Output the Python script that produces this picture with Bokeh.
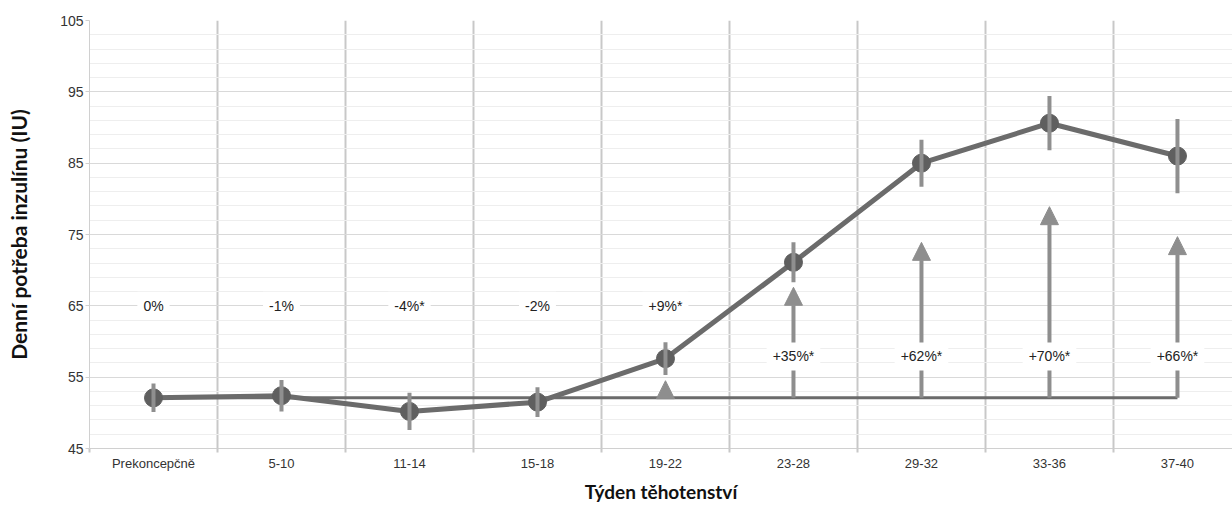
from bokeh.plotting import figure
from bokeh.models import (FixedTicker, Arrow, NormalHead, Label,
                          ColumnDataSource, Range1d)
from bokeh.embed import file_html
from bokeh.resources import INLINE

# ---- data ----
categories = ["Prekoncepčně", "5-10", "11-14", "15-18", "19-22",
              "23-28", "29-32", "33-36", "37-40"]
means = [52.1, 52.4, 50.2, 51.5, 57.6, 71.1, 85.0, 90.6, 86.0]
errors = [2.0, 2.2, 2.6, 2.1, 2.3, 2.8, 3.3, 3.8, 5.2]
pct_labels = ["0%", "-1%", "-4%*", "-2%", "+9%*", "+35%*", "+62%*", "+70%*", "+66%*"]
arrow_tops = [None, None, None, None, 54.5, 67.6, 73.9, 78.9, 74.7]
y_ticks = [45, 55, 65, 75, 85, 95, 105]

# ---- styling ----
LINE_C = "#6b6b6b"
MARK_C = "#5f5f5f"
ERR_C = "#8f8f8f"
ARROW_C = "#8e8e8e"
SEP_C = "#c8c8c8"

xs = list(range(len(categories)))
baseline = means[0]

p = figure(width=1232, height=505, output_backend="svg", toolbar_location=None,
           x_range=Range1d(-0.5, 8.43), y_range=Range1d(45, 105),
           min_border_left=89, min_border_right=0, min_border_top=20,
           min_border_bottom=55)
p.outline_line_color = None
p.background_fill_color = "white"

# y axis / grid
p.yaxis.ticker = FixedTicker(ticks=y_ticks, minor_ticks=list(range(45, 106, 2)))
p.ygrid.grid_line_color = "#d9d9d9"
p.ygrid.minor_grid_line_color = "#eeeeee"
p.ygrid.minor_grid_line_width = 1
p.yaxis.axis_line_color = "#d0d0d0"
p.yaxis.major_tick_line_color = "#d0d0d0"
p.yaxis.major_tick_out = 4
p.yaxis.major_tick_in = 0
p.yaxis.minor_tick_line_color = None
p.yaxis.major_label_text_font = "Liberation Sans"
p.yaxis.major_label_text_font_size = "14px"
p.yaxis.major_label_text_color = "#333333"
p.yaxis.major_label_standoff = 2
p.yaxis.axis_label = "Denní potřeba inzulínu (IU)"
p.yaxis.axis_label_text_font = "Lato"
p.yaxis.axis_label_text_font_style = "bold"
p.yaxis.axis_label_text_font_size = "21px"
p.yaxis.axis_label_text_color = "#111111"
p.yaxis.axis_label_standoff = 26

# x axis / category separators
bounds = [i + 0.5 for i in range(-1, len(categories) - 1)] + [len(categories) - 0.5]
p.xaxis.ticker = FixedTicker(ticks=xs, minor_ticks=bounds)
p.xaxis.major_label_overrides = {i: c for i, c in enumerate(categories)}
p.xaxis.major_tick_line_color = None
p.xaxis.major_tick_out = 0
p.xaxis.major_tick_in = 0
p.xaxis.minor_tick_line_color = SEP_C
p.xaxis.minor_tick_line_width = 2
p.xaxis.minor_tick_out = 4
p.xaxis.minor_tick_in = 0
p.xaxis.axis_line_color = "#d0d0d0"
p.xaxis.major_label_text_font = "Liberation Sans"
p.xaxis.major_label_text_font_size = "13px"
p.xaxis.major_label_text_color = "#333333"
p.xaxis.major_label_standoff = 3
p.xaxis.axis_label = "Týden těhotenství"
p.xaxis.axis_label_text_font = "Lato"
p.xaxis.axis_label_text_font_style = "bold"
p.xaxis.axis_label_text_font_size = "19px"
p.xaxis.axis_label_text_color = "#111111"
p.xaxis.axis_label_standoff = 6
p.xgrid.ticker = FixedTicker(ticks=bounds)
p.xgrid.grid_line_color = SEP_C
p.xgrid.grid_line_width = 2

# baseline (pre-conception level)
p.line([xs[0], xs[-1]], [baseline, baseline], line_color=LINE_C, line_width=3)

# main series
lo = [m - e for m, e in zip(means, errors)]
hi = [m + e for m, e in zip(means, errors)]
p.line(xs, means, line_color=LINE_C, line_width=5, line_join="round")
p.scatter(xs, means, size=18, fill_color=MARK_C, line_color=MARK_C)
p.segment(x0=xs, y0=lo, x1=xs, y1=hi, line_color=ERR_C, line_width=4)

# arrows from baseline
ax = [x for x, t in zip(xs, arrow_tops) if t is not None]
at = [t for t in arrow_tops if t is not None]
asrc = ColumnDataSource(dict(x=ax, y0=[baseline] * len(ax), y1=at))
p.add_layout(Arrow(source=asrc, x_start="x", y_start="y0", x_end="x", y_end="y1",
                   line_color=ARROW_C, line_width=4,
                   end=NormalHead(size=18, fill_color=ARROW_C, line_color=ARROW_C,
                                  line_width=1)))

# percentage labels with white boxes, drawn above the arrows
for i, t in zip(xs, pct_labels):
    p.add_layout(Label(x=i, y=(65 if i < 5 else 57.9), text=t,
                       text_font="Liberation Sans", text_font_size="14px",
                       text_color="#222222", text_align="center",
                       text_baseline="middle", background_fill_color="white",
                       padding=6))

open("out.html", "w").write(file_html(p, INLINE))
